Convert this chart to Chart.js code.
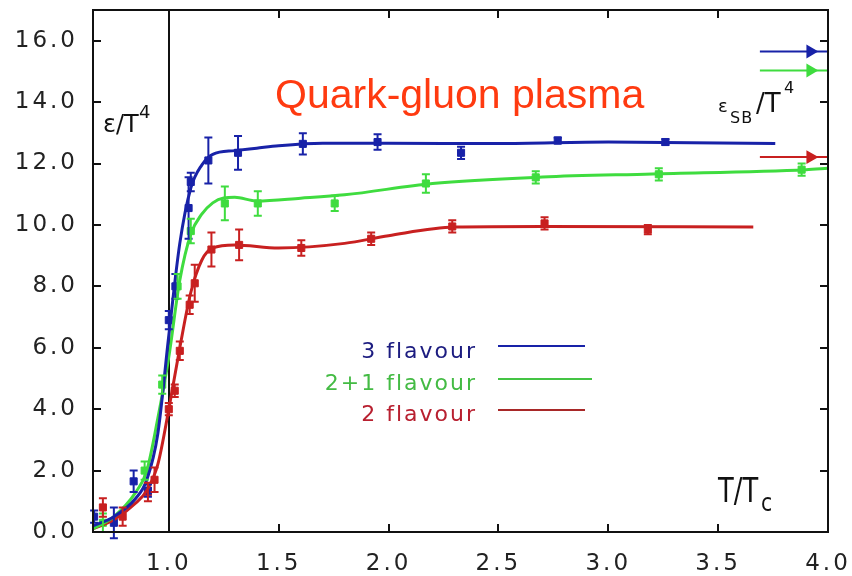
<!DOCTYPE html>
<html>
<head>
<meta charset="utf-8">
<script src="https://cdn.jsdelivr.net/npm/chart.js@4"></script>
<style>
body{margin:0;background:#fff}
canvas{display:block}
</style>
</head>
<body>
<canvas id="chart" width="852" height="576"></canvas>
<script>
/* Data (T/Tc, energy density eps/T^4) */
const xTicks = [1.0, 1.5, 2.0, 2.5, 3.0, 3.5, 4.0];
const yTicks = [0, 2, 4, 6, 8, 10, 12, 14, 16];

// fitted curves
const fitT3  = [0.655, 0.75, 0.85, 0.9, 0.95, 1.0, 1.05, 1.1, 1.15, 1.2, 1.3, 1.4, 1.5, 1.7, 2.0, 2.5, 3.0, 3.76];
const fit3   = [0.2, 0.5, 1.1, 1.7, 3.2, 6.4, 9.4, 11.2, 11.95, 12.3, 12.42, 12.5, 12.58, 12.66, 12.66, 12.65, 12.7, 12.65];
const fitT21 = [0.655, 0.75, 0.85, 0.9, 0.95, 1.0, 1.05, 1.1, 1.15, 1.2, 1.25, 1.3, 1.4, 1.6, 1.8, 2.2, 2.7, 3.2, 3.9, 4.0];
const fit21  = [0.1, 0.5, 1.3, 2.0, 3.7, 5.7, 8.2, 9.7, 10.35, 10.72, 10.88, 10.9, 10.78, 10.87, 10.98, 11.35, 11.56, 11.66, 11.8, 11.85];
const fitT2  = [0.655, 0.75, 0.85, 0.9, 0.95, 1.0, 1.05, 1.1, 1.15, 1.2, 1.3, 1.5, 1.8, 2.0, 2.3, 2.7, 3.66];
const fit2   = [0.1, 0.4, 0.95, 1.35, 2.2, 4.0, 6.0, 7.8, 8.85, 9.25, 9.35, 9.25, 9.4, 9.65, 9.93, 9.95, 9.93];

// lattice points with errors
const ptT3  = [0.66, 0.75, 0.84, 0.905, 1.0, 1.03, 1.09, 1.1, 1.18, 1.315, 1.61, 1.95, 2.33, 2.77, 3.26];
const pt3   = [0.5, 0.3, 1.65, 1.35, 6.9, 8.0, 10.55, 11.4, 12.1, 12.35, 12.64, 12.7, 12.35, 12.75, 12.7];
const err3  = [0.2, 0.5, 0.35, 0.2, 0.3, 0.4, 1.0, 0.3, 0.75, 0.55, 0.35, 0.25, 0.2, 0.1, 0.1];
const ptT21 = [0.7, 0.89, 0.97, 1.04, 1.1, 1.255, 1.405, 1.755, 2.17, 2.67, 3.23, 3.88];
const pt21  = [0.3, 2.0, 4.8, 8.0, 9.8, 10.7, 10.7, 10.7, 11.35, 11.55, 11.65, 11.8];
const err21 = [0.3, 0.3, 0.3, 0.4, 0.4, 0.55, 0.4, 0.25, 0.3, 0.2, 0.2, 0.2];
const ptT2  = [0.7, 0.79, 0.905, 0.935, 1.0, 1.027, 1.05, 1.095, 1.118, 1.194, 1.32, 1.603, 1.921, 2.29, 2.71, 3.18];
const pt2   = [0.8, 0.5, 1.3, 1.7, 4.0, 4.6, 5.9, 7.4, 8.1, 9.2, 9.35, 9.25, 9.55, 9.95, 10.05, 9.85];
const err2  = [0.3, 0.3, 0.3, 0.4, 0.2, 0.2, 0.3, 0.3, 0.6, 0.55, 0.5, 0.25, 0.2, 0.2, 0.2, 0.15];

// Stefan-Boltzmann limits (3, 2+1, 2 flavour)
const sbT = [3.69, 3.92, 4.0];
const sbLimit = [15.65, 15.03, 12.21];

const BLUE = "#1822a8", GREEN = "#3fdc3f", RED = "#c82020";

function xy(xs, ys){ return xs.map((x, i) => ({x: x, y: ys[i]})) }

function fitSet(xs, ys, color){
    return {data: xy(xs, ys), borderColor: color, borderWidth: 3, pointRadius: 0,
            cubicInterpolationMode: "monotone", showLine: true}
}
function ptSet(xs, ys, err, color){
    return {data: xy(xs, ys), err: err, showLine: false, pointStyle: "rect", pointRadius: 5,
            backgroundColor: color, borderColor: color, borderWidth: 1}
}
function sbSet(v, color){
    return {data: sbT.map(x => ({x: x, y: v})), borderColor: color, borderWidth: 2, showLine: true,
            pointStyle: "triangle", rotation: 90, pointRadius: [0, 6, 0],
            backgroundColor: color}
}
function noPad(s){
    s.paddingTop = 0; s.paddingBottom = 0; s.paddingLeft = 0; s.paddingRight = 0
}

/* Plugins */
const errorBars = {
    id: "errorBars",
    afterDatasetsDraw(chart){
        const ctx = chart.ctx, ys = chart.scales.y
        chart.data.datasets.forEach(function(ds, i){
            if(!ds.err){ return }
            const meta = chart.getDatasetMeta(i)
            ctx.save()
            ctx.strokeStyle = ds.borderColor
            ctx.lineWidth = 2
            meta.data.forEach(function(p, j){
                const v = ds.data[j].y, e = ds.err[j]
                const y1 = ys.getPixelForValue(v + e), y2 = ys.getPixelForValue(v - e)
                ctx.beginPath()
                ctx.moveTo(p.x, y1); ctx.lineTo(p.x, y2)
                ctx.moveTo(p.x - 4, y1); ctx.lineTo(p.x + 4, y1)
                ctx.moveTo(p.x - 4, y2); ctx.lineTo(p.x + 4, y2)
                ctx.stroke()
            })
            ctx.restore()
        })
    }
}

const frame = {
    id: "frame",
    beforeDraw(chart){
        chart.ctx.letterSpacing = "3px"
    },
    beforeDatasetsDraw(chart){
        const ctx = chart.ctx, a = chart.chartArea, xs = chart.scales.x
        const x1 = Math.round(xs.getPixelForValue(1.0))
        ctx.save()
        ctx.strokeStyle = "#111"
        ctx.lineWidth = 2
        ctx.beginPath()
        ctx.moveTo(x1, a.top); ctx.lineTo(x1, a.bottom)
        ctx.stroke()
        ctx.restore()
    },
    afterDatasetsDraw(chart){
        const ctx = chart.ctx, a = chart.chartArea, xs = chart.scales.x, ys = chart.scales.y
        ctx.save()
        ctx.strokeStyle = "#111"
        ctx.lineWidth = 2
        ctx.strokeRect(a.left, a.top, a.right - a.left, a.bottom - a.top)
        ctx.beginPath()
        yTicks.forEach(function(v){
            const y = Math.round(ys.getPixelForValue(v))
            ctx.moveTo(a.left, y); ctx.lineTo(a.left + 8, y)
            ctx.moveTo(a.right, y); ctx.lineTo(a.right - 8, y)
        })
        xTicks.forEach(function(v){
            const x = Math.round(xs.getPixelForValue(v))
            ctx.moveTo(x, a.bottom); ctx.lineTo(x, a.bottom - 8)
            ctx.moveTo(x, a.top); ctx.lineTo(x, a.top + 8)
        })
        ctx.stroke()
        ctx.restore()
    },
    afterDraw(chart){
        const ctx = chart.ctx
        function txt(s, x, y, font, color, align, spacing, sx){
            ctx.save()
            ctx.font = font
            ctx.fillStyle = color
            ctx.textAlign = align || "left"
            ctx.textBaseline = "alphabetic"
            ctx.letterSpacing = spacing || "0px"
            ctx.translate(x, y)
            ctx.scale(sx || 1, 1)
            ctx.fillText(s, 0, 0)
            ctx.restore()
        }
        txt("Quark-gluon plasma", 275, 108, '41px "Liberation Sans"', "#ff3a10")

        // axis labels
        txt("ε/T", 103, 132, '24px "DejaVu Sans"', "#111")
        txt("4", 139, 118, '18px "DejaVu Sans"', "#111")
        txt("ε", 718, 112, '18px "DejaVu Sans"', "#111")
        txt("SB", 730, 123, '16px "DejaVu Sans"', "#111", "left", "1px")
        txt("/T", 756, 112, '26px "DejaVu Sans"', "#111")
        txt("4", 784, 93, '16px "DejaVu Sans"', "#111")
        txt("T/T", 718, 502, '33px "DejaVu Sans"', "#111", "left", "0px", 0.78)
        txt("c", 761, 511, '24px "DejaVu Sans"', "#111", "left", "0px", 0.85)

        // key
        const keys = [["3 flavour", "#1c1c80", BLUE, 358, 346, 585],
                      ["2+1 flavour", "#44bb44", "#44c444", 390, 379, 592],
                      ["2 flavour", "#b82030", "#a82828", 421, 410, 585]]
        keys.forEach(function(k){
            txt(k[0], 477, k[3], '22px "DejaVu Sans"', k[1], "right", "2px")
            ctx.save()
            ctx.strokeStyle = k[2]
            ctx.lineWidth = 2
            ctx.beginPath()
            ctx.moveTo(498, k[4]); ctx.lineTo(k[5], k[4])
            ctx.stroke()
            ctx.restore()
        })
        ctx.letterSpacing = "0px"
    }
}

new Chart(document.getElementById("chart"), {
    type: "line",
    data: {
        datasets: [
            fitSet(fitT3, fit3, BLUE),
            fitSet(fitT21, fit21, GREEN),
            fitSet(fitT2, fit2, RED),
            ptSet(ptT3, pt3, err3, BLUE),
            ptSet(ptT21, pt21, err21, GREEN),
            ptSet(ptT2, pt2, err2, RED),
            sbSet(sbLimit[0], BLUE),
            sbSet(sbLimit[1], GREEN),
            sbSet(sbLimit[2], RED)
        ]
    },
    options: {
        responsive: false,
        animation: false,
        devicePixelRatio: 1,
        layout: {padding: {left: 0, right: 24, top: 10, bottom: 0}},
        plugins: {legend: {display: false}, tooltip: {enabled: false}},
        scales: {
            x: {
                type: "linear",
                min: 0.655, max: 4.0,
                afterFit: function(s){ s.height = 44; noPad(s) },
                grid: {display: false, drawTicks: false},
                border: {display: false},
                ticks: {
                    stepSize: 0.5, includeBounds: false, padding: 18,
                    color: "#222", font: {family: "DejaVu Sans", size: 23},
                    maxRotation: 0, autoSkip: false,
                    callback: function(v){ return v.toFixed(1) }
                }
            },
            y: {
                min: 0, max: 17,
                afterFit: function(s){ s.width = 93; noPad(s) },
                grid: {display: false, drawTicks: false},
                border: {display: false},
                ticks: {
                    stepSize: 2, includeBounds: false, padding: 15,
                    color: "#222", font: {family: "DejaVu Sans", size: 23},
                    callback: function(v){ return v.toFixed(1) }
                }
            }
        }
    },
    plugins: [errorBars, frame]
});
</script>
</body>
</html>
